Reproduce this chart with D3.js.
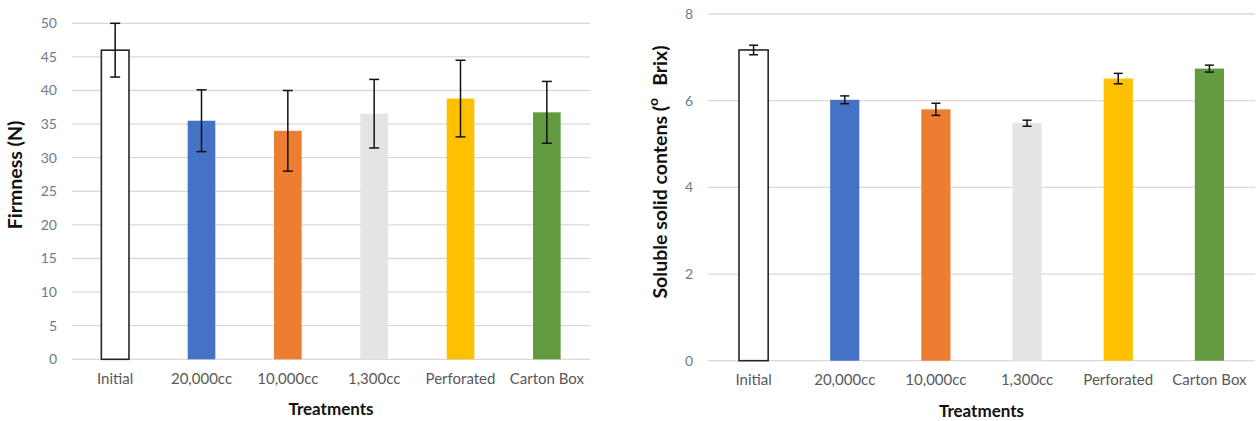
<!DOCTYPE html>
<html>
<head>
<meta charset="utf-8">
<script src="https://cdn.jsdelivr.net/npm/d3@7"></script>
<style>
  html, body { margin: 0; padding: 0; background: #fff; }
  svg { display: block; font-family: Lato, "Open Sans", sans-serif; }
</style>
</head>
<body>
<svg id="chart" width="1257" height="421"></svg>
<script>
// Treatments shared by both panels
const treatments = ["Initial", "20,000cc", "10,000cc", "1,300cc", "Perforated", "Carton Box"];
const barColors = ["#ffffff", "#4472c4", "#ed7d31", "#e4e4e4", "#ffc000", "#629b3f"];

// Firmness (N): means and standard deviations
const firmness = [46.0, 35.5, 34.0, 36.55, 38.8, 36.75];
const firmnessErr = [4.0, 4.6, 6.0, 5.1, 5.7, 4.6];
const firmnessTicks = [0, 5, 10, 15, 20, 25, 30, 35, 40, 45, 50];

// Soluble solid content (°Brix): means and standard deviations
const ssc = [7.17, 6.02, 5.80, 5.48, 6.51, 6.74];
const sscErr = [0.11, 0.09, 0.14, 0.07, 0.12, 0.08];
const sscTicks = [0, 2, 4, 6, 8];

const svg = d3.select("#chart");

function panel(opts) {
  const { x0, x1, yTop, yBottom, max, ticks, values, errors, capW, titleX, titleY, titleBuild } = opts;
  const g = svg.append("g");

  const x = d3.scaleBand().domain(treatments).range([x0, x1]).paddingInner(0.68).paddingOuter(0.34);
  const y = d3.scaleLinear().domain([0, max]).range([yBottom, yTop]);

  // horizontal gridlines
  g.append("g").selectAll("line").data(ticks).join("line")
    .attr("x1", x0).attr("x2", x1)
    .attr("y1", d => y(d)).attr("y2", d => y(d))
    .attr("stroke", "#d9d9d9").attr("stroke-width", 1.3);

  // y axis tick labels
  const yAxis = d3.axisLeft(y).tickValues(ticks).tickSize(0).tickPadding(0);
  const ya = g.append("g").attr("transform", `translate(${x0 - 15},0)`).call(yAxis);
  ya.select(".domain").remove();
  ya.selectAll("text").attr("font-size", 14).attr("fill", "#6b7b8c").attr("font-family", "Lato, sans-serif");

  // x axis category labels
  const xAxis = d3.axisBottom(x).tickSize(0).tickPadding(0);
  const xa = g.append("g").attr("transform", `translate(0,${yBottom + 14})`).call(xAxis);
  xa.select(".domain").remove();
  xa.selectAll("text").attr("font-size", 15).attr("fill", "#595959").attr("font-family", "Lato, sans-serif");

  // bars
  g.append("g").selectAll("rect").data(values).join("rect")
    .attr("x", (d, i) => x(treatments[i]))
    .attr("y", d => y(d))
    .attr("width", x.bandwidth())
    .attr("height", d => yBottom - y(d))
    .attr("fill", (d, i) => barColors[i])
    .attr("stroke", (d, i) => i === 0 ? "#262626" : "none")
    .attr("stroke-width", 1.6);

  // error bars
  const eb = g.append("g").attr("stroke", "#111").attr("stroke-width", 1.5).attr("fill", "none");
  values.forEach((v, i) => {
    const cx = x(treatments[i]) + x.bandwidth() / 2;
    const hi = y(v + errors[i]), lo = y(v - errors[i]);
    eb.append("line").attr("x1", cx).attr("x2", cx).attr("y1", hi).attr("y2", lo);
    eb.append("line").attr("x1", cx - capW / 2).attr("x2", cx + capW / 2).attr("y1", hi).attr("y2", hi);
    eb.append("line").attr("x1", cx - capW / 2).attr("x2", cx + capW / 2).attr("y1", lo).attr("y2", lo);
  });

  // x axis title
  g.append("text")
    .attr("x", (x0 + x1) / 2).attr("y", yBottom + 56)
    .attr("text-anchor", "middle")
    .attr("font-size", 17).attr("font-weight", "bold").attr("fill", "#111")
    .text("Treatments");

  // y axis title
  const t = g.append("text")
    .attr("transform", `translate(${titleX},${titleY}) rotate(-90)`)
    .attr("text-anchor", "middle")
    .attr("font-size", 19.5).attr("font-weight", "bold").attr("fill", "#111");
  titleBuild(t);
}

panel({
  x0: 72, x1: 590, yTop: 23.3, yBottom: 359.3, max: 50,
  ticks: firmnessTicks, values: firmness, errors: firmnessErr, capW: 10,
  titleX: 22, titleY: 175,
  titleBuild: t => t.text("Firmness (N)")
});

panel({
  x0: 708, x1: 1255, yTop: 14, yBottom: 360.7, max: 8,
  ticks: sscTicks, values: ssc, errors: sscErr, capW: 9,
  titleX: 667, titleY: 172,
  titleBuild: t => {
    t.append("tspan").text("Soluble solid contens (");
    t.append("tspan").attr("font-size", 14).attr("dy", -9).text("o");
    t.append("tspan").attr("dy", 9).attr("dx", 12).text("Brix)");
  }
});
</script>
</body>
</html>
